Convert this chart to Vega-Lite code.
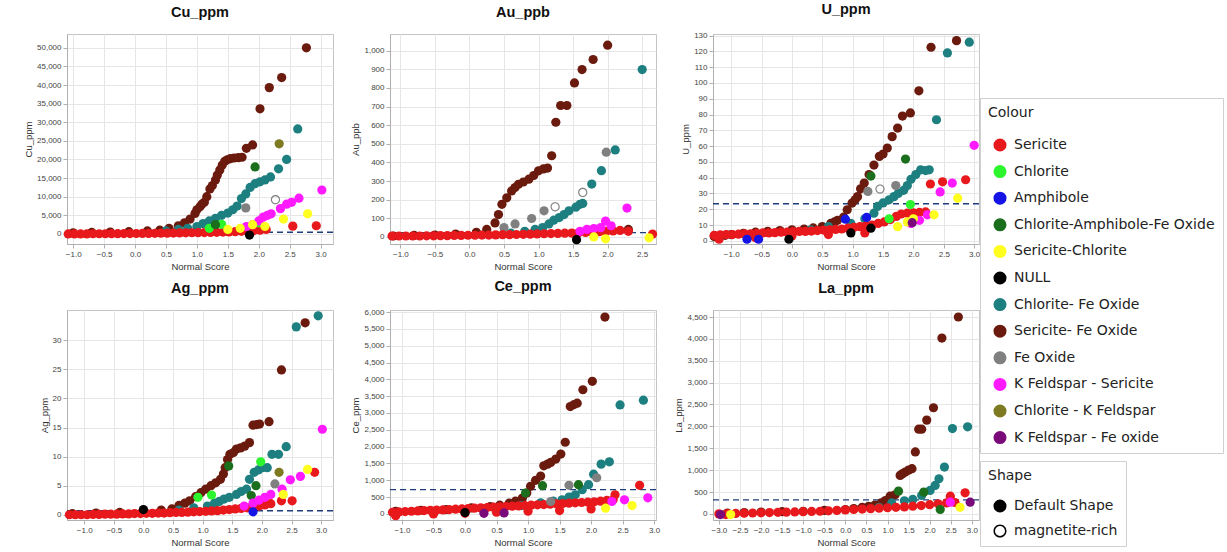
{
"$schema": "https://vega.github.io/schema/vega-lite/v6.json",
"background": "white",
"padding": {"left": 23, "top": 1, "right": 5, "bottom": 2},
"columns": 3,
"spacing": {"row": 66, "column": 57},
"bounds": "flush",
"datasets": {
"Cu": [
{"a":"Sericite- Fe Oxide","x":-1.0,"y":300},{"a":"Sericite- Fe Oxide","x":-0.7,"y":400},{"a":"Sericite- Fe Oxide","x":-0.4,"y":500},{"a":"Sericite- Fe Oxide","x":-0.1,"y":600},{"a":"Sericite- Fe Oxide","x":0.2,"y":800},{"a":"Sericite- Fe Oxide","x":0.4,"y":1000},{"a":"Sericite- Fe Oxide","x":0.55,"y":1500},{"a":"Sericite- Fe Oxide","x":0.7,"y":2200},{"a":"Sericite- Fe Oxide","x":0.8,"y":3000},{"a":"Sericite- Fe Oxide","x":0.89,"y":4000},{"a":"Sericite- Fe Oxide","x":0.97,"y":5500},{"a":"Sericite- Fe Oxide","x":1.0,"y":6500},{"a":"Sericite- Fe Oxide","x":1.05,"y":7300},{"a":"Sericite- Fe Oxide","x":1.08,"y":8000},{"a":"Sericite- Fe Oxide","x":1.12,"y":8500},{"a":"Sericite- Fe Oxide","x":1.16,"y":10000},{"a":"Sericite- Fe Oxide","x":1.21,"y":12100},{"a":"Sericite- Fe Oxide","x":1.25,"y":13000},{"a":"Sericite- Fe Oxide","x":1.3,"y":14500},{"a":"Sericite- Fe Oxide","x":1.33,"y":15800},{"a":"Sericite- Fe Oxide","x":1.37,"y":17200},{"a":"Sericite- Fe Oxide","x":1.41,"y":18500},{"a":"Sericite- Fe Oxide","x":1.45,"y":19500},{"a":"Sericite- Fe Oxide","x":1.49,"y":19900},{"a":"Sericite- Fe Oxide","x":1.54,"y":20200},{"a":"Sericite- Fe Oxide","x":1.6,"y":20400},{"a":"Sericite- Fe Oxide","x":1.67,"y":20500},{"a":"Sericite- Fe Oxide","x":1.73,"y":20600},{"a":"Sericite- Fe Oxide","x":1.8,"y":23000},{"a":"Sericite- Fe Oxide","x":1.9,"y":23900},{"a":"Sericite- Fe Oxide","x":2.02,"y":33600},{"a":"Sericite- Fe Oxide","x":2.17,"y":39300},{"a":"Sericite- Fe Oxide","x":2.37,"y":42000},{"a":"Sericite- Fe Oxide","x":2.77,"y":50000},
{"a":"Chlorite- Fe Oxide","x":0.5,"y":800},{"a":"Chlorite- Fe Oxide","x":0.7,"y":1200},{"a":"Chlorite- Fe Oxide","x":0.85,"y":1500},{"a":"Chlorite- Fe Oxide","x":1.0,"y":2000},{"a":"Chlorite- Fe Oxide","x":1.1,"y":2800},{"a":"Chlorite- Fe Oxide","x":1.2,"y":3500},{"a":"Chlorite- Fe Oxide","x":1.3,"y":4200},{"a":"Chlorite- Fe Oxide","x":1.4,"y":5000},{"a":"Chlorite- Fe Oxide","x":1.5,"y":5600},{"a":"Chlorite- Fe Oxide","x":1.58,"y":6500},{"a":"Chlorite- Fe Oxide","x":1.65,"y":7500},{"a":"Chlorite- Fe Oxide","x":1.72,"y":9500},{"a":"Chlorite- Fe Oxide","x":1.79,"y":10750},{"a":"Chlorite- Fe Oxide","x":1.86,"y":12500},{"a":"Chlorite- Fe Oxide","x":1.94,"y":13500},{"a":"Chlorite- Fe Oxide","x":2.02,"y":14000},{"a":"Chlorite- Fe Oxide","x":2.1,"y":14500},{"a":"Chlorite- Fe Oxide","x":2.19,"y":15300},{"a":"Chlorite- Fe Oxide","x":2.32,"y":17500},{"a":"Chlorite- Fe Oxide","x":2.45,"y":20000},{"a":"Chlorite- Fe Oxide","x":2.63,"y":28200},
{"a":"Sericite","x":-1.08,"y":0},{"a":"Sericite","x":-0.98,"y":0},{"a":"Sericite","x":-0.88,"y":0},{"a":"Sericite","x":-0.78,"y":0},{"a":"Sericite","x":-0.68,"y":50},{"a":"Sericite","x":-0.58,"y":50},{"a":"Sericite","x":-0.48,"y":50},{"a":"Sericite","x":-0.38,"y":80},{"a":"Sericite","x":-0.28,"y":80},{"a":"Sericite","x":-0.18,"y":100},{"a":"Sericite","x":-0.08,"y":100},{"a":"Sericite","x":0.02,"y":120},{"a":"Sericite","x":0.12,"y":150},{"a":"Sericite","x":0.22,"y":150},{"a":"Sericite","x":0.32,"y":180},{"a":"Sericite","x":0.42,"y":200},{"a":"Sericite","x":0.52,"y":220},{"a":"Sericite","x":0.62,"y":250},{"a":"Sericite","x":0.72,"y":280},{"a":"Sericite","x":0.82,"y":300},{"a":"Sericite","x":0.92,"y":320},{"a":"Sericite","x":1.02,"y":350},{"a":"Sericite","x":1.12,"y":380},{"a":"Sericite","x":1.22,"y":400},{"a":"Sericite","x":1.32,"y":450},{"a":"Sericite","x":1.42,"y":500},{"a":"Sericite","x":1.52,"y":550},{"a":"Sericite","x":1.62,"y":600},{"a":"Sericite","x":1.72,"y":700},{"a":"Sericite","x":1.82,"y":800},{"a":"Sericite","x":1.92,"y":900},{"a":"Sericite","x":2.02,"y":1000},{"a":"Sericite","x":2.12,"y":1200},{"a":"Sericite","x":2.55,"y":2100},{"a":"Sericite","x":2.93,"y":2200},
{"a":"Chlorite","x":1.2,"y":1500},{"a":"Chlorite","x":1.4,"y":2600},{"a":"Chlorite","x":2.0,"y":3000},
{"a":"Chlorite-Amphibole-Fe Oxide","x":1.3,"y":2500},{"a":"Chlorite-Amphibole-Fe Oxide","x":1.94,"y":18000},
{"a":"Chlorite - K Feldspar","x":2.33,"y":24200},
{"a":"Fe Oxide","x":1.79,"y":7000},{"a":"Fe Oxide","x":2.27,"y":9200,"o":1},
{"a":"NULL","x":1.85,"y":-300},
{"a":"K Feldspar - Sericite","x":1.8,"y":2000},{"a":"K Feldspar - Sericite","x":1.9,"y":2500},{"a":"K Feldspar - Sericite","x":2.0,"y":3500},{"a":"K Feldspar - Sericite","x":2.07,"y":4500},{"a":"K Feldspar - Sericite","x":2.14,"y":5000},{"a":"K Feldspar - Sericite","x":2.2,"y":5400},{"a":"K Feldspar - Sericite","x":2.35,"y":6800},{"a":"K Feldspar - Sericite","x":2.45,"y":8000},{"a":"K Feldspar - Sericite","x":2.53,"y":8500},{"a":"K Feldspar - Sericite","x":2.65,"y":9600},{"a":"K Feldspar - Sericite","x":3.02,"y":11800},
{"a":"Sericite-Chlorite","x":1.5,"y":1200},{"a":"Sericite-Chlorite","x":1.7,"y":1500},{"a":"Sericite-Chlorite","x":1.9,"y":2500},{"a":"Sericite-Chlorite","x":2.1,"y":2000},{"a":"Sericite-Chlorite","x":2.4,"y":4000},{"a":"Sericite-Chlorite","x":2.79,"y":5400}
],
"Au": [
{"a":"Sericite- Fe Oxide","x":-1.1,"y":5},{"a":"Sericite- Fe Oxide","x":-0.8,"y":8},{"a":"Sericite- Fe Oxide","x":-0.5,"y":10},{"a":"Sericite- Fe Oxide","x":-0.2,"y":15},{"a":"Sericite- Fe Oxide","x":0.1,"y":25},{"a":"Sericite- Fe Oxide","x":0.25,"y":40},{"a":"Sericite- Fe Oxide","x":0.37,"y":75},{"a":"Sericite- Fe Oxide","x":0.42,"y":120},{"a":"Sericite- Fe Oxide","x":0.47,"y":175},{"a":"Sericite- Fe Oxide","x":0.54,"y":210},{"a":"Sericite- Fe Oxide","x":0.61,"y":247},{"a":"Sericite- Fe Oxide","x":0.66,"y":265},{"a":"Sericite- Fe Oxide","x":0.71,"y":283},{"a":"Sericite- Fe Oxide","x":0.78,"y":295},{"a":"Sericite- Fe Oxide","x":0.86,"y":310},{"a":"Sericite- Fe Oxide","x":0.93,"y":330},{"a":"Sericite- Fe Oxide","x":1.0,"y":355},{"a":"Sericite- Fe Oxide","x":1.07,"y":365},{"a":"Sericite- Fe Oxide","x":1.13,"y":370},{"a":"Sericite- Fe Oxide","x":1.19,"y":436},{"a":"Sericite- Fe Oxide","x":1.25,"y":616},{"a":"Sericite- Fe Oxide","x":1.32,"y":706},{"a":"Sericite- Fe Oxide","x":1.41,"y":706},{"a":"Sericite- Fe Oxide","x":1.52,"y":827},{"a":"Sericite- Fe Oxide","x":1.63,"y":899},{"a":"Sericite- Fe Oxide","x":1.79,"y":953},{"a":"Sericite- Fe Oxide","x":2.0,"y":1030},{"a":"Sericite- Fe Oxide","x":2.3,"y":40},
{"a":"Chlorite- Fe Oxide","x":0.6,"y":20},{"a":"Chlorite- Fe Oxide","x":0.8,"y":30},{"a":"Chlorite- Fe Oxide","x":0.95,"y":40},{"a":"Chlorite- Fe Oxide","x":1.06,"y":50},{"a":"Chlorite- Fe Oxide","x":1.15,"y":70},{"a":"Chlorite- Fe Oxide","x":1.22,"y":90},{"a":"Chlorite- Fe Oxide","x":1.3,"y":104},{"a":"Chlorite- Fe Oxide","x":1.37,"y":120},{"a":"Chlorite- Fe Oxide","x":1.44,"y":140},{"a":"Chlorite- Fe Oxide","x":1.54,"y":160},{"a":"Chlorite- Fe Oxide","x":1.6,"y":175},{"a":"Chlorite- Fe Oxide","x":1.64,"y":180},{"a":"Chlorite- Fe Oxide","x":1.77,"y":284},{"a":"Chlorite- Fe Oxide","x":1.91,"y":356},{"a":"Chlorite- Fe Oxide","x":2.11,"y":467},{"a":"Chlorite- Fe Oxide","x":2.5,"y":899},
{"a":"Fe Oxide","x":0.5,"y":50},{"a":"Fe Oxide","x":0.66,"y":70},{"a":"Fe Oxide","x":0.9,"y":99},{"a":"Fe Oxide","x":1.08,"y":140},{"a":"Fe Oxide","x":1.98,"y":455},{"a":"Fe Oxide","x":1.24,"y":162,"o":1},{"a":"Fe Oxide","x":1.64,"y":239,"o":1},
{"a":"Sericite","x":-1.12,"y":5},{"a":"Sericite","x":-1.02,"y":5},{"a":"Sericite","x":-0.92,"y":5},{"a":"Sericite","x":-0.82,"y":5},{"a":"Sericite","x":-0.72,"y":5},{"a":"Sericite","x":-0.62,"y":6},{"a":"Sericite","x":-0.52,"y":6},{"a":"Sericite","x":-0.42,"y":7},{"a":"Sericite","x":-0.32,"y":7},{"a":"Sericite","x":-0.22,"y":8},{"a":"Sericite","x":-0.12,"y":8},{"a":"Sericite","x":-0.02,"y":9},{"a":"Sericite","x":0.08,"y":9},{"a":"Sericite","x":0.18,"y":10},{"a":"Sericite","x":0.28,"y":10},{"a":"Sericite","x":0.38,"y":11},{"a":"Sericite","x":0.48,"y":12},{"a":"Sericite","x":0.58,"y":12},{"a":"Sericite","x":0.68,"y":13},{"a":"Sericite","x":0.78,"y":14},{"a":"Sericite","x":0.88,"y":15},{"a":"Sericite","x":0.98,"y":16},{"a":"Sericite","x":1.08,"y":17},{"a":"Sericite","x":1.18,"y":18},{"a":"Sericite","x":1.28,"y":19},{"a":"Sericite","x":1.38,"y":20},{"a":"Sericite","x":1.48,"y":21},{"a":"Sericite","x":1.58,"y":22},{"a":"Sericite","x":1.68,"y":24},{"a":"Sericite","x":1.78,"y":26},{"a":"Sericite","x":1.88,"y":28},{"a":"Sericite","x":1.98,"y":30},{"a":"Sericite","x":2.08,"y":32},{"a":"Sericite","x":2.18,"y":35},{"a":"Sericite","x":2.3,"y":30},{"a":"Sericite","x":2.65,"y":15},
{"a":"K Feldspar - Sericite","x":1.6,"y":30},{"a":"K Feldspar - Sericite","x":1.7,"y":40},{"a":"K Feldspar - Sericite","x":1.8,"y":45},{"a":"K Feldspar - Sericite","x":1.9,"y":50},{"a":"K Feldspar - Sericite","x":1.97,"y":85},{"a":"K Feldspar - Sericite","x":2.05,"y":60},{"a":"K Feldspar - Sericite","x":2.28,"y":155},
{"a":"Sericite-Chlorite","x":1.8,"y":0},{"a":"Sericite-Chlorite","x":1.97,"y":-10},{"a":"Sericite-Chlorite","x":2.6,"y":-5},
{"a":"NULL","x":1.55,"y":-15}
],
"U": [
{"a":"Sericite- Fe Oxide","x":-1.28,"y":2.7},{"a":"Sericite- Fe Oxide","x":-1.1,"y":3.5},{"a":"Sericite- Fe Oxide","x":-1.0,"y":4},{"a":"Sericite- Fe Oxide","x":-0.8,"y":4.8},{"a":"Sericite- Fe Oxide","x":-0.6,"y":5.5},{"a":"Sericite- Fe Oxide","x":-0.4,"y":6},{"a":"Sericite- Fe Oxide","x":-0.2,"y":6.5},{"a":"Sericite- Fe Oxide","x":0,"y":7},{"a":"Sericite- Fe Oxide","x":0.2,"y":7.5},{"a":"Sericite- Fe Oxide","x":0.35,"y":8.2},{"a":"Sericite- Fe Oxide","x":0.5,"y":9},{"a":"Sericite- Fe Oxide","x":0.64,"y":11},{"a":"Sericite- Fe Oxide","x":0.7,"y":12},{"a":"Sericite- Fe Oxide","x":0.75,"y":13},{"a":"Sericite- Fe Oxide","x":0.85,"y":15},{"a":"Sericite- Fe Oxide","x":0.91,"y":19.7},{"a":"Sericite- Fe Oxide","x":0.99,"y":23.9},{"a":"Sericite- Fe Oxide","x":1.04,"y":26},{"a":"Sericite- Fe Oxide","x":1.08,"y":28},{"a":"Sericite- Fe Oxide","x":1.13,"y":33},{"a":"Sericite- Fe Oxide","x":1.19,"y":36.6},{"a":"Sericite- Fe Oxide","x":1.27,"y":42},{"a":"Sericite- Fe Oxide","x":1.35,"y":48},{"a":"Sericite- Fe Oxide","x":1.44,"y":53.5},{"a":"Sericite- Fe Oxide","x":1.5,"y":55},{"a":"Sericite- Fe Oxide","x":1.57,"y":58.8},{"a":"Sericite- Fe Oxide","x":1.65,"y":66},{"a":"Sericite- Fe Oxide","x":1.74,"y":71.4},{"a":"Sericite- Fe Oxide","x":1.82,"y":79},{"a":"Sericite- Fe Oxide","x":1.95,"y":81},{"a":"Sericite- Fe Oxide","x":2.09,"y":95},{"a":"Sericite- Fe Oxide","x":2.29,"y":122.6},{"a":"Sericite- Fe Oxide","x":2.71,"y":126.8},
{"a":"Chlorite- Fe Oxide","x":0.31,"y":7},{"a":"Chlorite- Fe Oxide","x":0.6,"y":9},{"a":"Chlorite- Fe Oxide","x":0.97,"y":11},{"a":"Chlorite- Fe Oxide","x":1.2,"y":14},{"a":"Chlorite- Fe Oxide","x":1.35,"y":17.5},{"a":"Chlorite- Fe Oxide","x":1.41,"y":21.8},{"a":"Chlorite- Fe Oxide","x":1.5,"y":24},{"a":"Chlorite- Fe Oxide","x":1.6,"y":26},{"a":"Chlorite- Fe Oxide","x":1.68,"y":28},{"a":"Chlorite- Fe Oxide","x":1.75,"y":30},{"a":"Chlorite- Fe Oxide","x":1.84,"y":32},{"a":"Chlorite- Fe Oxide","x":1.9,"y":35},{"a":"Chlorite- Fe Oxide","x":1.96,"y":39},{"a":"Chlorite- Fe Oxide","x":2.04,"y":42},{"a":"Chlorite- Fe Oxide","x":2.12,"y":45},{"a":"Chlorite- Fe Oxide","x":2.2,"y":44.5},{"a":"Chlorite- Fe Oxide","x":2.26,"y":45},{"a":"Chlorite- Fe Oxide","x":2.38,"y":76.7},{"a":"Chlorite- Fe Oxide","x":2.56,"y":119},{"a":"Chlorite- Fe Oxide","x":2.92,"y":125.8},
{"a":"Sericite","x":-1.28,"y":3.5},{"a":"Sericite","x":-1.18,"y":3.8},{"a":"Sericite","x":-1.08,"y":4},{"a":"Sericite","x":-0.98,"y":4},{"a":"Sericite","x":-0.88,"y":4.2},{"a":"Sericite","x":-0.78,"y":4.5},{"a":"Sericite","x":-0.68,"y":4.5},{"a":"Sericite","x":-0.58,"y":4.8},{"a":"Sericite","x":-0.48,"y":5},{"a":"Sericite","x":-0.38,"y":5},{"a":"Sericite","x":-0.28,"y":5.2},{"a":"Sericite","x":-0.18,"y":5.5},{"a":"Sericite","x":-0.08,"y":5.5},{"a":"Sericite","x":0.02,"y":5.8},{"a":"Sericite","x":0.12,"y":6},{"a":"Sericite","x":0.22,"y":6},{"a":"Sericite","x":0.32,"y":6.2},{"a":"Sericite","x":0.42,"y":6.5},{"a":"Sericite","x":0.52,"y":6.8},{"a":"Sericite","x":0.62,"y":7},{"a":"Sericite","x":0.72,"y":7.2},{"a":"Sericite","x":0.82,"y":7.5},{"a":"Sericite","x":0.92,"y":8},{"a":"Sericite","x":1.02,"y":8.5},{"a":"Sericite","x":1.12,"y":9},{"a":"Sericite","x":1.22,"y":9.5},{"a":"Sericite","x":1.32,"y":10},{"a":"Sericite","x":1.42,"y":11},{"a":"Sericite","x":1.52,"y":12},{"a":"Sericite","x":1.62,"y":13.5},{"a":"Sericite","x":1.72,"y":15.5},{"a":"Sericite","x":1.8,"y":17},{"a":"Sericite","x":1.9,"y":17.5},{"a":"Sericite","x":2.0,"y":17.8},{"a":"Sericite","x":2.1,"y":18},{"a":"Sericite","x":2.2,"y":18.3},{"a":"Sericite","x":-1.2,"y":1},{"a":"Sericite","x":-0.6,"y":2},{"a":"Sericite","x":0,"y":3},{"a":"Sericite","x":0.6,"y":4},{"a":"Sericite","x":1.2,"y":5},{"a":"Sericite","x":2.28,"y":36},{"a":"Sericite","x":2.48,"y":37.4},{"a":"Sericite","x":2.86,"y":38.7},
{"a":"Chlorite-Amphibole-Fe Oxide","x":1.3,"y":41},{"a":"Chlorite-Amphibole-Fe Oxide","x":1.87,"y":51.8},
{"a":"Chlorite","x":1.6,"y":14},{"a":"Chlorite","x":1.95,"y":23},
{"a":"Fe Oxide","x":1.25,"y":31.3},{"a":"Fe Oxide","x":1.71,"y":35},{"a":"Fe Oxide","x":1.45,"y":32.8,"o":1},
{"a":"K Feldspar - Sericite","x":1.96,"y":11},{"a":"K Feldspar - Sericite","x":2.1,"y":13},{"a":"K Feldspar - Sericite","x":2.23,"y":16.5},{"a":"K Feldspar - Sericite","x":2.44,"y":31},{"a":"K Feldspar - Sericite","x":2.64,"y":36.6},{"a":"K Feldspar - Sericite","x":3.0,"y":60.5},
{"a":"Sericite-Chlorite","x":1.74,"y":9},{"a":"Sericite-Chlorite","x":1.9,"y":12},{"a":"Sericite-Chlorite","x":2.0,"y":14},{"a":"Sericite-Chlorite","x":2.34,"y":16.5},{"a":"Sericite-Chlorite","x":2.73,"y":27},
{"a":"Amphibole","x":-0.74,"y":1},{"a":"Amphibole","x":-0.55,"y":1},{"a":"Amphibole","x":0.88,"y":13.7},{"a":"Amphibole","x":1.23,"y":14.8},
{"a":"NULL","x":-0.05,"y":1},{"a":"NULL","x":0.97,"y":5},{"a":"NULL","x":1.3,"y":8},
{"a":"K Feldspar - Fe oxide","x":1.98,"y":11.5}
],
"Ag": [
{"a":"Sericite- Fe Oxide","x":-1.2,"y":0.2},{"a":"Sericite- Fe Oxide","x":-0.8,"y":0.3},{"a":"Sericite- Fe Oxide","x":-0.4,"y":0.4},{"a":"Sericite- Fe Oxide","x":0,"y":0.6},{"a":"Sericite- Fe Oxide","x":0.3,"y":0.8},{"a":"Sericite- Fe Oxide","x":0.48,"y":1},{"a":"Sericite- Fe Oxide","x":0.6,"y":1.6},{"a":"Sericite- Fe Oxide","x":0.7,"y":2},{"a":"Sericite- Fe Oxide","x":0.78,"y":2.4},{"a":"Sericite- Fe Oxide","x":0.88,"y":3.1},{"a":"Sericite- Fe Oxide","x":0.97,"y":3.8},{"a":"Sericite- Fe Oxide","x":1.05,"y":4.4},{"a":"Sericite- Fe Oxide","x":1.14,"y":5},{"a":"Sericite- Fe Oxide","x":1.22,"y":5.5},{"a":"Sericite- Fe Oxide","x":1.3,"y":6.1},{"a":"Sericite- Fe Oxide","x":1.35,"y":7},{"a":"Sericite- Fe Oxide","x":1.38,"y":8.1},{"a":"Sericite- Fe Oxide","x":1.42,"y":9.5},{"a":"Sericite- Fe Oxide","x":1.46,"y":10.4},{"a":"Sericite- Fe Oxide","x":1.52,"y":10.7},{"a":"Sericite- Fe Oxide","x":1.57,"y":11.3},{"a":"Sericite- Fe Oxide","x":1.64,"y":11.5},{"a":"Sericite- Fe Oxide","x":1.71,"y":11.8},{"a":"Sericite- Fe Oxide","x":1.79,"y":12.4},{"a":"Sericite- Fe Oxide","x":1.85,"y":15.4},{"a":"Sericite- Fe Oxide","x":1.91,"y":15.5},{"a":"Sericite- Fe Oxide","x":1.96,"y":15.6},{"a":"Sericite- Fe Oxide","x":2.12,"y":16},{"a":"Sericite- Fe Oxide","x":2.33,"y":24.9},{"a":"Sericite- Fe Oxide","x":2.73,"y":33},
{"a":"Chlorite- Fe Oxide","x":0.6,"y":0.8},{"a":"Chlorite- Fe Oxide","x":0.85,"y":1.2},{"a":"Chlorite- Fe Oxide","x":1.08,"y":1.5},{"a":"Chlorite- Fe Oxide","x":1.2,"y":2},{"a":"Chlorite- Fe Oxide","x":1.28,"y":2.3},{"a":"Chlorite- Fe Oxide","x":1.36,"y":2.7},{"a":"Chlorite- Fe Oxide","x":1.45,"y":3},{"a":"Chlorite- Fe Oxide","x":1.57,"y":3.5},{"a":"Chlorite- Fe Oxide","x":1.65,"y":4},{"a":"Chlorite- Fe Oxide","x":1.74,"y":4.4},{"a":"Chlorite- Fe Oxide","x":1.79,"y":6.1},{"a":"Chlorite- Fe Oxide","x":1.87,"y":7.3},{"a":"Chlorite- Fe Oxide","x":1.94,"y":7.7},{"a":"Chlorite- Fe Oxide","x":2.01,"y":8.1},{"a":"Chlorite- Fe Oxide","x":2.09,"y":8.1},{"a":"Chlorite- Fe Oxide","x":2.17,"y":10.4},{"a":"Chlorite- Fe Oxide","x":2.28,"y":10.4},{"a":"Chlorite- Fe Oxide","x":2.41,"y":11.7},{"a":"Chlorite- Fe Oxide","x":2.58,"y":32.3},{"a":"Chlorite- Fe Oxide","x":2.95,"y":34.2},
{"a":"Sericite","x":-1.25,"y":0},{"a":"Sericite","x":-1.15,"y":0},{"a":"Sericite","x":-1.05,"y":0},{"a":"Sericite","x":-0.95,"y":0},{"a":"Sericite","x":-0.85,"y":0.05},{"a":"Sericite","x":-0.75,"y":0.05},{"a":"Sericite","x":-0.65,"y":0.1},{"a":"Sericite","x":-0.55,"y":0.1},{"a":"Sericite","x":-0.45,"y":0.1},{"a":"Sericite","x":-0.35,"y":0.15},{"a":"Sericite","x":-0.25,"y":0.15},{"a":"Sericite","x":-0.15,"y":0.2},{"a":"Sericite","x":-0.05,"y":0.2},{"a":"Sericite","x":0.05,"y":0.25},{"a":"Sericite","x":0.15,"y":0.25},{"a":"Sericite","x":0.25,"y":0.3},{"a":"Sericite","x":0.35,"y":0.3},{"a":"Sericite","x":0.45,"y":0.35},{"a":"Sericite","x":0.55,"y":0.4},{"a":"Sericite","x":0.65,"y":0.4},{"a":"Sericite","x":0.75,"y":0.45},{"a":"Sericite","x":0.85,"y":0.5},{"a":"Sericite","x":0.95,"y":0.55},{"a":"Sericite","x":1.05,"y":0.6},{"a":"Sericite","x":1.15,"y":0.65},{"a":"Sericite","x":1.25,"y":0.7},{"a":"Sericite","x":1.35,"y":0.8},{"a":"Sericite","x":1.45,"y":0.9},{"a":"Sericite","x":1.55,"y":1.0},{"a":"Sericite","x":1.65,"y":1.1},{"a":"Sericite","x":1.75,"y":1.2},{"a":"Sericite","x":1.85,"y":1.35},{"a":"Sericite","x":1.95,"y":1.5},{"a":"Sericite","x":2.05,"y":1.7},{"a":"Sericite","x":2.15,"y":1.9},{"a":"Sericite","x":2.33,"y":2.4},{"a":"Sericite","x":2.51,"y":2.4},{"a":"Sericite","x":2.89,"y":7.3},
{"a":"Chlorite","x":0.92,"y":3},{"a":"Chlorite","x":1.15,"y":3.4},{"a":"Chlorite","x":1.98,"y":9.1},
{"a":"Chlorite-Amphibole-Fe Oxide","x":1.44,"y":8.4},{"a":"Chlorite-Amphibole-Fe Oxide","x":1.82,"y":3.3},{"a":"Chlorite-Amphibole-Fe Oxide","x":1.9,"y":5},
{"a":"Chlorite - K Feldspar","x":2.29,"y":7.3},
{"a":"Fe Oxide","x":2.22,"y":5.3},
{"a":"K Feldspar - Sericite","x":1.7,"y":1.5},{"a":"K Feldspar - Sericite","x":1.85,"y":2},{"a":"K Feldspar - Sericite","x":1.95,"y":2.5},{"a":"K Feldspar - Sericite","x":2.05,"y":3},{"a":"K Feldspar - Sericite","x":2.15,"y":3.5},{"a":"K Feldspar - Sericite","x":2.34,"y":4.4},{"a":"K Feldspar - Sericite","x":2.48,"y":6},{"a":"K Feldspar - Sericite","x":2.65,"y":6.6},{"a":"K Feldspar - Sericite","x":3.02,"y":14.7},
{"a":"Sericite-Chlorite","x":2.36,"y":3.5},{"a":"Sericite-Chlorite","x":2.77,"y":7.8},
{"a":"Amphibole","x":1.85,"y":0.5},
{"a":"NULL","x":0.0,"y":0.9}
],
"Ce": [
{"a":"Sericite- Fe Oxide","x":-1.1,"y":80},{"a":"Sericite- Fe Oxide","x":-0.7,"y":110},{"a":"Sericite- Fe Oxide","x":-0.3,"y":130},{"a":"Sericite- Fe Oxide","x":0.1,"y":180},{"a":"Sericite- Fe Oxide","x":0.4,"y":220},{"a":"Sericite- Fe Oxide","x":0.55,"y":260},{"a":"Sericite- Fe Oxide","x":0.7,"y":320},{"a":"Sericite- Fe Oxide","x":0.8,"y":380},{"a":"Sericite- Fe Oxide","x":0.91,"y":470},{"a":"Sericite- Fe Oxide","x":0.98,"y":620},{"a":"Sericite- Fe Oxide","x":1.04,"y":820},{"a":"Sericite- Fe Oxide","x":1.12,"y":1000},{"a":"Sericite- Fe Oxide","x":1.2,"y":1125},{"a":"Sericite- Fe Oxide","x":1.25,"y":1430},{"a":"Sericite- Fe Oxide","x":1.31,"y":1480},{"a":"Sericite- Fe Oxide","x":1.36,"y":1530},{"a":"Sericite- Fe Oxide","x":1.44,"y":1630},{"a":"Sericite- Fe Oxide","x":1.52,"y":1780},{"a":"Sericite- Fe Oxide","x":1.59,"y":2130},{"a":"Sericite- Fe Oxide","x":1.67,"y":3190},{"a":"Sericite- Fe Oxide","x":1.73,"y":3250},{"a":"Sericite- Fe Oxide","x":1.78,"y":3290},{"a":"Sericite- Fe Oxide","x":1.87,"y":3690},{"a":"Sericite- Fe Oxide","x":2.02,"y":3940},{"a":"Sericite- Fe Oxide","x":2.22,"y":5850},
{"a":"Chlorite- Fe Oxide","x":0.5,"y":150},{"a":"Chlorite- Fe Oxide","x":0.9,"y":250},{"a":"Chlorite- Fe Oxide","x":1.2,"y":330},{"a":"Chlorite- Fe Oxide","x":1.4,"y":380},{"a":"Chlorite- Fe Oxide","x":1.54,"y":420},{"a":"Chlorite- Fe Oxide","x":1.65,"y":500},{"a":"Chlorite- Fe Oxide","x":1.75,"y":570},{"a":"Chlorite- Fe Oxide","x":1.86,"y":720},{"a":"Chlorite- Fe Oxide","x":1.96,"y":870},{"a":"Chlorite- Fe Oxide","x":2.04,"y":1180},{"a":"Chlorite- Fe Oxide","x":2.16,"y":1480},{"a":"Chlorite- Fe Oxide","x":2.29,"y":1550},{"a":"Chlorite- Fe Oxide","x":2.46,"y":3240},{"a":"Chlorite- Fe Oxide","x":2.83,"y":3380},
{"a":"Sericite","x":-1.15,"y":50},{"a":"Sericite","x":-1.05,"y":60},{"a":"Sericite","x":-0.95,"y":70},{"a":"Sericite","x":-0.85,"y":80},{"a":"Sericite","x":-0.75,"y":90},{"a":"Sericite","x":-0.65,"y":100},{"a":"Sericite","x":-0.55,"y":110},{"a":"Sericite","x":-0.45,"y":115},{"a":"Sericite","x":-0.35,"y":120},{"a":"Sericite","x":-0.25,"y":130},{"a":"Sericite","x":-0.15,"y":140},{"a":"Sericite","x":-0.05,"y":150},{"a":"Sericite","x":0.05,"y":160},{"a":"Sericite","x":0.15,"y":170},{"a":"Sericite","x":0.25,"y":180},{"a":"Sericite","x":0.35,"y":190},{"a":"Sericite","x":0.45,"y":200},{"a":"Sericite","x":0.55,"y":210},{"a":"Sericite","x":0.65,"y":220},{"a":"Sericite","x":0.75,"y":230},{"a":"Sericite","x":0.85,"y":240},{"a":"Sericite","x":0.95,"y":250},{"a":"Sericite","x":1.05,"y":260},{"a":"Sericite","x":1.15,"y":270},{"a":"Sericite","x":1.25,"y":280},{"a":"Sericite","x":1.35,"y":290},{"a":"Sericite","x":1.45,"y":300},{"a":"Sericite","x":1.55,"y":310},{"a":"Sericite","x":1.65,"y":320},{"a":"Sericite","x":1.75,"y":330},{"a":"Sericite","x":1.85,"y":340},{"a":"Sericite","x":1.95,"y":350},{"a":"Sericite","x":2.05,"y":360},{"a":"Sericite","x":2.15,"y":380},{"a":"Sericite","x":2.25,"y":400},{"a":"Sericite","x":2.35,"y":420},{"a":"Sericite","x":-1.1,"y":-50},{"a":"Sericite","x":-0.5,"y":0},{"a":"Sericite","x":0,"y":20},{"a":"Sericite","x":0.5,"y":50},{"a":"Sericite","x":1.0,"y":80},{"a":"Sericite","x":1.5,"y":100},{"a":"Sericite","x":2.0,"y":150},{"a":"Sericite","x":2.38,"y":570},{"a":"Sericite","x":2.77,"y":850},
{"a":"Chlorite-Amphibole-Fe Oxide","x":0.96,"y":620},{"a":"Chlorite-Amphibole-Fe Oxide","x":1.23,"y":840},{"a":"Chlorite-Amphibole-Fe Oxide","x":1.8,"y":870},
{"a":"Fe Oxide","x":1.36,"y":370},{"a":"Fe Oxide","x":1.65,"y":850},{"a":"Fe Oxide","x":2.09,"y":1075},
{"a":"K Feldspar - Sericite","x":2.33,"y":370},{"a":"K Feldspar - Sericite","x":2.53,"y":420},{"a":"K Feldspar - Sericite","x":2.9,"y":480},
{"a":"Sericite-Chlorite","x":2.23,"y":170},{"a":"Sericite-Chlorite","x":2.65,"y":250},
{"a":"K Feldspar - Fe oxide","x":0.3,"y":20},{"a":"K Feldspar - Fe oxide","x":0.62,"y":30},
{"a":"NULL","x":0.0,"y":40}
],
"La": [
{"a":"Sericite- Fe Oxide","x":-2.8,"y":20},{"a":"Sericite- Fe Oxide","x":-2.4,"y":30},{"a":"Sericite- Fe Oxide","x":-2.0,"y":40},{"a":"Sericite- Fe Oxide","x":-1.5,"y":50},{"a":"Sericite- Fe Oxide","x":-1.0,"y":60},{"a":"Sericite- Fe Oxide","x":-0.5,"y":80},{"a":"Sericite- Fe Oxide","x":0.0,"y":100},{"a":"Sericite- Fe Oxide","x":0.2,"y":120},{"a":"Sericite- Fe Oxide","x":0.4,"y":150},{"a":"Sericite- Fe Oxide","x":0.55,"y":170},{"a":"Sericite- Fe Oxide","x":0.7,"y":200},{"a":"Sericite- Fe Oxide","x":0.85,"y":250},{"a":"Sericite- Fe Oxide","x":0.95,"y":306},{"a":"Sericite- Fe Oxide","x":1.06,"y":405},{"a":"Sericite- Fe Oxide","x":1.18,"y":436},{"a":"Sericite- Fe Oxide","x":1.3,"y":880},{"a":"Sericite- Fe Oxide","x":1.36,"y":920},{"a":"Sericite- Fe Oxide","x":1.42,"y":957},{"a":"Sericite- Fe Oxide","x":1.5,"y":1000},{"a":"Sericite- Fe Oxide","x":1.58,"y":1033},{"a":"Sericite- Fe Oxide","x":1.66,"y":1416},{"a":"Sericite- Fe Oxide","x":1.74,"y":1936},{"a":"Sericite- Fe Oxide","x":1.81,"y":1936},{"a":"Sericite- Fe Oxide","x":1.93,"y":2143},{"a":"Sericite- Fe Oxide","x":2.09,"y":2426},{"a":"Sericite- Fe Oxide","x":2.29,"y":4018},{"a":"Sericite- Fe Oxide","x":2.68,"y":4500},
{"a":"Chlorite- Fe Oxide","x":0.8,"y":150},{"a":"Chlorite- Fe Oxide","x":1.1,"y":250},{"a":"Chlorite- Fe Oxide","x":1.4,"y":300},{"a":"Chlorite- Fe Oxide","x":1.6,"y":330},{"a":"Chlorite- Fe Oxide","x":1.81,"y":420},{"a":"Chlorite- Fe Oxide","x":2.01,"y":535},{"a":"Chlorite- Fe Oxide","x":2.13,"y":650},{"a":"Chlorite- Fe Oxide","x":2.22,"y":803},{"a":"Chlorite- Fe Oxide","x":2.35,"y":1071},{"a":"Chlorite- Fe Oxide","x":2.54,"y":1951},{"a":"Chlorite- Fe Oxide","x":2.9,"y":1990},
{"a":"Sericite","x":-3.0,"y":0},{"a":"Sericite","x":-2.8,"y":5},{"a":"Sericite","x":-2.6,"y":10},{"a":"Sericite","x":-2.4,"y":15},{"a":"Sericite","x":-2.2,"y":20},{"a":"Sericite","x":-2.0,"y":25},{"a":"Sericite","x":-1.8,"y":30},{"a":"Sericite","x":-1.6,"y":35},{"a":"Sericite","x":-1.4,"y":40},{"a":"Sericite","x":-1.2,"y":45},{"a":"Sericite","x":-1.0,"y":50},{"a":"Sericite","x":-0.8,"y":55},{"a":"Sericite","x":-0.6,"y":60},{"a":"Sericite","x":-0.4,"y":70},{"a":"Sericite","x":-0.2,"y":80},{"a":"Sericite","x":0.0,"y":90},{"a":"Sericite","x":0.2,"y":100},{"a":"Sericite","x":0.4,"y":110},{"a":"Sericite","x":0.6,"y":120},{"a":"Sericite","x":0.8,"y":130},{"a":"Sericite","x":1.0,"y":140},{"a":"Sericite","x":1.2,"y":150},{"a":"Sericite","x":1.4,"y":160},{"a":"Sericite","x":1.6,"y":175},{"a":"Sericite","x":1.8,"y":190},{"a":"Sericite","x":2.0,"y":210},{"a":"Sericite","x":2.2,"y":230},{"a":"Sericite","x":2.4,"y":250},{"a":"Sericite","x":2.6,"y":260},{"a":"Sericite","x":2.49,"y":405},{"a":"Sericite","x":2.84,"y":482},{"a":"Sericite","x":-2.84,"y":-15},
{"a":"Chlorite-Amphibole-Fe Oxide","x":1.26,"y":520},{"a":"Chlorite-Amphibole-Fe Oxide","x":1.86,"y":497},{"a":"Chlorite-Amphibole-Fe Oxide","x":2.25,"y":100},
{"a":"K Feldspar - Sericite","x":2.49,"y":268},
{"a":"K Feldspar - Fe oxide","x":2.96,"y":268},{"a":"K Feldspar - Fe oxide","x":-2.96,"y":-15},
{"a":"Sericite-Chlorite","x":2.72,"y":150},{"a":"Sericite-Chlorite","x":-2.72,"y":-15}
]
},
"concat": [
{
"title": "Cu_ppm", "width": 266, "height": 210,
"encoding": {"y": {"field": "y", "type": "quantitative", "title": "Cu_ppm", "scale": {"domain": [-2700, 53700], "nice": false, "zero": false}, "axis": {"values": [0,5000,10000,15000,20000,25000,30000,35000,40000,45000,50000], "format": ",d"}}},
"layer": [
{"data": {"values": [{"y": 450}]}, "mark": {"type": "rule", "color": "#1f3d7a", "strokeDash": [6,4], "strokeWidth": 1.4}, "encoding": {}},
{"data": {"name": "Cu"}, "transform": [{"filter": "!datum.o"}], "mark": {"type": "point", "filled": true, "size": 85, "opacity": 1},
 "encoding": {"x": {"field": "x", "type": "quantitative", "title": "Normal Score", "scale": {"domain": [-1.1, 3.2], "nice": false, "zero": false}, "axis": {"values": [-1,-0.5,0,0.5,1,1.5,2,2.5,3], "format": ".1f"}},
  "color": {"field": "a", "type": "nominal", "scale": {"domain": ["Sericite","Chlorite","Amphibole","Chlorite-Amphibole-Fe Oxide","Sericite-Chlorite","NULL","Chlorite- Fe Oxide","Sericite- Fe Oxide","Fe Oxide","K Feldspar - Sericite","Chlorite - K Feldspar","K Feldspar - Fe oxide"], "range": ["#e8191c","#2df52d","#1414e6","#1b6e1b","#ffff1f","#000000","#1d7f7f","#6b1a0e","#808080","#ff1aff","#7d7a22","#7a0a7a"]},
   "legend": {"title": "Colour", "orient": "none", "legendX": 913, "legendY": 64, "symbolType": "circle", "symbolSize": 170, "symbolStrokeWidth": 0, "titlePadding": 18, "rowPadding": 12.6}},
  "shape": {"datum": "Default Shape", "scale": {"domain": ["Default Shape","magnetite-rich"], "range": ["circle","M-1,0A1,1,0,1,1,1,0A1,1,0,1,1,-1,0ZM-0.76,0A0.76,0.76,0,1,0,0.76,0A0.76,0.76,0,1,0,-0.76,0Z"]},
   "legend": {"title": "Shape", "orient": "none", "legendX": 913, "legendY": 427, "symbolSize": 170, "symbolFillColor": "#000000", "symbolStrokeWidth": 0, "titlePadding": 16, "rowPadding": 11, "labelExpr": "datum.label + '\u00a0\u00a0\u00a0\u00a0\u00a0\u00a0\u00a0\u00a0\u00a0\u00a0\u00a0\u00a0\u00a0\u00a0\u00a0\u00a0\u00a0\u00a0\u00a0\u00a0\u00a0\u00a0\u00a0\u00a0'"}}}},
{"data": {"name": "Cu"}, "transform": [{"filter": "datum.o"}], "mark": {"type": "point", "filled": true, "size": 85, "opacity": 1},
 "encoding": {"x": {"field": "x", "type": "quantitative", "title": "Normal Score", "scale": {"domain": [-1.1, 3.2], "nice": false, "zero": false}, "axis": {"values": [-1,-0.5,0,0.5,1,1.5,2,2.5,3], "format": ".1f"}},
  "color": {"field": "a", "type": "nominal", "scale": {"domain": ["Sericite","Chlorite","Amphibole","Chlorite-Amphibole-Fe Oxide","Sericite-Chlorite","NULL","Chlorite- Fe Oxide","Sericite- Fe Oxide","Fe Oxide","K Feldspar - Sericite","Chlorite - K Feldspar","K Feldspar - Fe oxide"], "range": ["#e8191c","#2df52d","#1414e6","#1b6e1b","#ffff1f","#000000","#1d7f7f","#6b1a0e","#808080","#ff1aff","#7d7a22","#7a0a7a"]}},
  "shape": {"datum": "magnetite-rich", "scale": {"domain": ["Default Shape","magnetite-rich"], "range": ["circle","M-1,0A1,1,0,1,1,1,0A1,1,0,1,1,-1,0ZM-0.76,0A0.76,0.76,0,1,0,0.76,0A0.76,0.76,0,1,0,-0.76,0Z"]}}}}
]
},
{
"title": "Au_ppb", "width": 266, "height": 210,
"encoding": {"y": {"field": "y", "type": "quantitative", "title": "Au_ppb", "scale": {"domain": [-38, 1090], "nice": false, "zero": false}, "axis": {"values": [0,100,200,300,400,500,600,700,800,900,1000], "format": ",d"}}},
"layer": [
{"data": {"values": [{"y": 23}]}, "mark": {"type": "rule", "color": "#1f3d7a", "strokeDash": [6,4], "strokeWidth": 1.4}, "encoding": {}},
{"data": {"name": "Au"}, "transform": [{"filter": "!datum.o"}], "mark": {"type": "point", "filled": true, "size": 85, "opacity": 1},
 "encoding": {"x": {"field": "x", "type": "quantitative", "title": "Normal Score", "scale": {"domain": [-1.15, 2.7], "nice": false, "zero": false}, "axis": {"values": [-1,-0.5,0,0.5,1,1.5,2,2.5], "format": ".1f"}},
  "color": {"field": "a", "type": "nominal", "scale": {"domain": ["Sericite","Chlorite","Amphibole","Chlorite-Amphibole-Fe Oxide","Sericite-Chlorite","NULL","Chlorite- Fe Oxide","Sericite- Fe Oxide","Fe Oxide","K Feldspar - Sericite","Chlorite - K Feldspar","K Feldspar - Fe oxide"], "range": ["#e8191c","#2df52d","#1414e6","#1b6e1b","#ffff1f","#000000","#1d7f7f","#6b1a0e","#808080","#ff1aff","#7d7a22","#7a0a7a"]}},
  "shape": {"datum": "Default Shape", "scale": {"domain": ["Default Shape","magnetite-rich"], "range": ["circle","M-1,0A1,1,0,1,1,1,0A1,1,0,1,1,-1,0ZM-0.76,0A0.76,0.76,0,1,0,0.76,0A0.76,0.76,0,1,0,-0.76,0Z"]}}}},
{"data": {"name": "Au"}, "transform": [{"filter": "datum.o"}], "mark": {"type": "point", "filled": true, "size": 85, "opacity": 1},
 "encoding": {"x": {"field": "x", "type": "quantitative", "title": "Normal Score", "scale": {"domain": [-1.15, 2.7], "nice": false, "zero": false}, "axis": {"values": [-1,-0.5,0,0.5,1,1.5,2,2.5], "format": ".1f"}},
  "color": {"field": "a", "type": "nominal", "scale": {"domain": ["Sericite","Chlorite","Amphibole","Chlorite-Amphibole-Fe Oxide","Sericite-Chlorite","NULL","Chlorite- Fe Oxide","Sericite- Fe Oxide","Fe Oxide","K Feldspar - Sericite","Chlorite - K Feldspar","K Feldspar - Fe oxide"], "range": ["#e8191c","#2df52d","#1414e6","#1b6e1b","#ffff1f","#000000","#1d7f7f","#6b1a0e","#808080","#ff1aff","#7d7a22","#7a0a7a"]}},
  "shape": {"datum": "magnetite-rich", "scale": {"domain": ["Default Shape","magnetite-rich"], "range": ["circle","M-1,0A1,1,0,1,1,1,0A1,1,0,1,1,-1,0ZM-0.76,0A0.76,0.76,0,1,0,0.76,0A0.76,0.76,0,1,0,-0.76,0Z"]}}}}
]
},
{
"title": "U_ppm", "width": 266, "height": 210,
"encoding": {"y": {"field": "y", "type": "quantitative", "title": "U_ppm", "scale": {"domain": [-2, 131], "nice": false, "zero": false}, "axis": {"values": [0,10,20,30,40,50,60,70,80,90,100,110,120,130], "format": ",d"}}},
"layer": [
{"data": {"values": [{"y": 23.5}]}, "mark": {"type": "rule", "color": "#1f3d7a", "strokeDash": [6,4], "strokeWidth": 1.4}, "encoding": {}},
{"data": {"name": "U"}, "transform": [{"filter": "!datum.o"}], "mark": {"type": "point", "filled": true, "size": 85, "opacity": 1},
 "encoding": {"x": {"field": "x", "type": "quantitative", "title": "Normal Score", "scale": {"domain": [-1.3, 3.08], "nice": false, "zero": false}, "axis": {"values": [-1,-0.5,0,0.5,1,1.5,2,2.5,3], "format": ".1f"}},
  "color": {"field": "a", "type": "nominal", "scale": {"domain": ["Sericite","Chlorite","Amphibole","Chlorite-Amphibole-Fe Oxide","Sericite-Chlorite","NULL","Chlorite- Fe Oxide","Sericite- Fe Oxide","Fe Oxide","K Feldspar - Sericite","Chlorite - K Feldspar","K Feldspar - Fe oxide"], "range": ["#e8191c","#2df52d","#1414e6","#1b6e1b","#ffff1f","#000000","#1d7f7f","#6b1a0e","#808080","#ff1aff","#7d7a22","#7a0a7a"]}},
  "shape": {"datum": "Default Shape", "scale": {"domain": ["Default Shape","magnetite-rich"], "range": ["circle","M-1,0A1,1,0,1,1,1,0A1,1,0,1,1,-1,0ZM-0.76,0A0.76,0.76,0,1,0,0.76,0A0.76,0.76,0,1,0,-0.76,0Z"]}}}},
{"data": {"name": "U"}, "transform": [{"filter": "datum.o"}], "mark": {"type": "point", "filled": true, "size": 85, "opacity": 1},
 "encoding": {"x": {"field": "x", "type": "quantitative", "title": "Normal Score", "scale": {"domain": [-1.3, 3.08], "nice": false, "zero": false}, "axis": {"values": [-1,-0.5,0,0.5,1,1.5,2,2.5,3], "format": ".1f"}},
  "color": {"field": "a", "type": "nominal", "scale": {"domain": ["Sericite","Chlorite","Amphibole","Chlorite-Amphibole-Fe Oxide","Sericite-Chlorite","NULL","Chlorite- Fe Oxide","Sericite- Fe Oxide","Fe Oxide","K Feldspar - Sericite","Chlorite - K Feldspar","K Feldspar - Fe oxide"], "range": ["#e8191c","#2df52d","#1414e6","#1b6e1b","#ffff1f","#000000","#1d7f7f","#6b1a0e","#808080","#ff1aff","#7d7a22","#7a0a7a"]}},
  "shape": {"datum": "magnetite-rich", "scale": {"domain": ["Default Shape","magnetite-rich"], "range": ["circle","M-1,0A1,1,0,1,1,1,0A1,1,0,1,1,-1,0ZM-0.76,0A0.76,0.76,0,1,0,0.76,0A0.76,0.76,0,1,0,-0.76,0Z"]}}}}
]
},
{
"title": "Ag_ppm", "width": 266, "height": 210,
"encoding": {"y": {"field": "y", "type": "quantitative", "title": "Ag_ppm", "scale": {"domain": [-0.9, 35.2], "nice": false, "zero": false}, "axis": {"values": [0,5,10,15,20,25,30], "format": ",d"}}},
"layer": [
{"data": {"values": [{"y": 0.7}]}, "mark": {"type": "rule", "color": "#1f3d7a", "strokeDash": [6,4], "strokeWidth": 1.4}, "encoding": {}},
{"data": {"name": "Ag"}, "mark": {"type": "point", "filled": true, "size": 85, "opacity": 1},
 "encoding": {"x": {"field": "x", "type": "quantitative", "title": "Normal Score", "scale": {"domain": [-1.29, 3.2], "nice": false, "zero": false}, "axis": {"values": [-1,-0.5,0,0.5,1,1.5,2,2.5,3], "format": ".1f"}},
  "color": {"field": "a", "type": "nominal", "scale": {"domain": ["Sericite","Chlorite","Amphibole","Chlorite-Amphibole-Fe Oxide","Sericite-Chlorite","NULL","Chlorite- Fe Oxide","Sericite- Fe Oxide","Fe Oxide","K Feldspar - Sericite","Chlorite - K Feldspar","K Feldspar - Fe oxide"], "range": ["#e8191c","#2df52d","#1414e6","#1b6e1b","#ffff1f","#000000","#1d7f7f","#6b1a0e","#808080","#ff1aff","#7d7a22","#7a0a7a"]}},
  "shape": {"datum": "Default Shape", "scale": {"domain": ["Default Shape","magnetite-rich"], "range": ["circle","M-1,0A1,1,0,1,1,1,0A1,1,0,1,1,-1,0ZM-0.76,0A0.76,0.76,0,1,0,0.76,0A0.76,0.76,0,1,0,-0.76,0Z"]}}}}
]
},
{
"title": "Ce_ppm", "width": 266, "height": 210,
"encoding": {"y": {"field": "y", "type": "quantitative", "title": "Ce_ppm", "scale": {"domain": [-180, 6060], "nice": false, "zero": false}, "axis": {"values": [0,500,1000,1500,2000,2500,3000,3500,4000,4500,5000,5500,6000], "format": ",d"}}},
"layer": [
{"data": {"values": [{"y": 724}]}, "mark": {"type": "rule", "color": "#1f3d7a", "strokeDash": [6,4], "strokeWidth": 1.4}, "encoding": {}},
{"data": {"name": "Ce"}, "mark": {"type": "point", "filled": true, "size": 85, "opacity": 1},
 "encoding": {"x": {"field": "x", "type": "quantitative", "title": "Normal Score", "scale": {"domain": [-1.19, 3.03], "nice": false, "zero": false}, "axis": {"values": [-1,-0.5,0,0.5,1,1.5,2,2.5,3], "format": ".1f"}},
  "color": {"field": "a", "type": "nominal", "scale": {"domain": ["Sericite","Chlorite","Amphibole","Chlorite-Amphibole-Fe Oxide","Sericite-Chlorite","NULL","Chlorite- Fe Oxide","Sericite- Fe Oxide","Fe Oxide","K Feldspar - Sericite","Chlorite - K Feldspar","K Feldspar - Fe oxide"], "range": ["#e8191c","#2df52d","#1414e6","#1b6e1b","#ffff1f","#000000","#1d7f7f","#6b1a0e","#808080","#ff1aff","#7d7a22","#7a0a7a"]}},
  "shape": {"datum": "Default Shape", "scale": {"domain": ["Default Shape","magnetite-rich"], "range": ["circle","M-1,0A1,1,0,1,1,1,0A1,1,0,1,1,-1,0ZM-0.76,0A0.76,0.76,0,1,0,0.76,0A0.76,0.76,0,1,0,-0.76,0Z"]}}}}
]
},
{
"title": "La_ppm", "width": 266, "height": 210,
"encoding": {"y": {"field": "y", "type": "quantitative", "title": "La_ppm", "scale": {"domain": [-140, 4660], "nice": false, "zero": false}, "axis": {"values": [0,500,1000,1500,2000,2500,3000,3500,4000,4500], "format": ",d"}}},
"layer": [
{"data": {"values": [{"y": 321}]}, "mark": {"type": "rule", "color": "#1f3d7a", "strokeDash": [6,4], "strokeWidth": 1.4}, "encoding": {}},
{"data": {"name": "La"}, "mark": {"type": "point", "filled": true, "size": 85, "opacity": 1},
 "encoding": {"x": {"field": "x", "type": "quantitative", "title": "Normal Score", "scale": {"domain": [-3.14, 3.17], "nice": false, "zero": false}, "axis": {"values": [-3,-2.5,-2,-1.5,-1,-0.5,0,0.5,1,1.5,2,2.5,3], "format": ".1f"}},
  "color": {"field": "a", "type": "nominal", "scale": {"domain": ["Sericite","Chlorite","Amphibole","Chlorite-Amphibole-Fe Oxide","Sericite-Chlorite","NULL","Chlorite- Fe Oxide","Sericite- Fe Oxide","Fe Oxide","K Feldspar - Sericite","Chlorite - K Feldspar","K Feldspar - Fe oxide"], "range": ["#e8191c","#2df52d","#1414e6","#1b6e1b","#ffff1f","#000000","#1d7f7f","#6b1a0e","#808080","#ff1aff","#7d7a22","#7a0a7a"]}},
  "shape": {"datum": "Default Shape", "scale": {"domain": ["Default Shape","magnetite-rich"], "range": ["circle","M-1,0A1,1,0,1,1,1,0A1,1,0,1,1,-1,0ZM-0.76,0A0.76,0.76,0,1,0,0.76,0A0.76,0.76,0,1,0,-0.76,0Z"]}}}}
]
}
],
"config": {
"font": "Liberation Sans",
"view": {"stroke": "#c4c4c4"},
"axis": {"labelFontSize": 8, "labelColor": "#444444", "titleFontSize": 9.5, "titleFontWeight": "normal", "titleColor": "#333333", "gridColor": "#e6e6e6", "domainColor": "#b0b0b0", "tickColor": "#b0b0b0", "tickSize": 4, "labelPadding": 2, "titlePadding": 3},
"title": {"fontSize": 14.5, "fontWeight": "bold", "color": "#111111", "offset": 14},
"legend": {"titleFontSize": 14, "titleFontWeight": "normal", "titleColor": "#222222", "labelFontSize": 14, "labelColor": "#222222", "labelFont": "DejaVu Sans", "titleFont": "DejaVu Sans", "strokeColor": "#d0d0d0", "padding": 8, "labelLimit": 400, "symbolOffset": 5, "labelOffset": 7}
}
}
